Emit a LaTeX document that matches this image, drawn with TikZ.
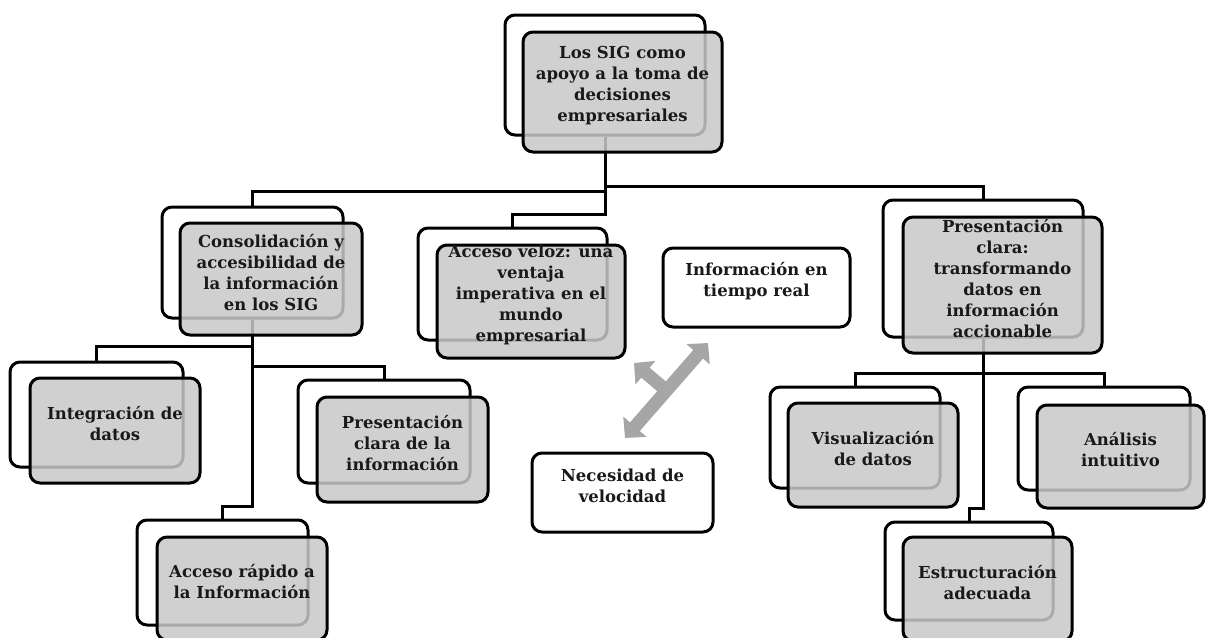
\documentclass[tikz,border=0pt]{standalone}
\usepackage{fontspec}
\newfontfamily\boxfont{DejaVu Serif}
\usetikzlibrary{fit,arrows.meta}
\pgfdeclarelayer{bg}
\pgfsetlayers{bg,main}
\definecolor{frontgray}{RGB}{200,200,200}
\definecolor{arrowgray}{RGB}{166,166,166}
\definecolor{txt}{RGB}{25,25,25}
\tikzset{
  base/.style={rounded corners=10pt, line width=3pt, draw=black, inner sep=0pt,
    align=center, text=txt, font=\boxfont\bfseries\fontsize{16.5}{21}\selectfont},
  backbox/.style={base, fill=white},
  frontbox/.style={base, fill=frontgray, fill opacity=0.85, text opacity=1},
  plainbox/.style={base, fill=white},
  conn/.style={line width=3pt, draw=black, line join=miter},
  bigarrow/.style={line width=13pt, draw=arrowgray,
    arrows={-Triangle[width=30pt,length=15pt]}},
}
\begin{document}
\begin{tikzpicture}[x=1pt,y=-1pt]
\useasboundingbox (0,0) rectangle (1206,637);
% root
\node[backbox, fit={(505,15) (705,135)}] (rootB) {};
\node[frontbox, fit={(523,32) (722,152)}] (rootF) {Los SIG como\\apoyo a la toma de\\decisiones\\empresariales};
% level 1
\node[backbox, fit={(162,207) (343,318)}] (consB) {};
\node[frontbox, fit={(180,223) (362,335)}] (consF) {Consolidación y\\accesibilidad de\\la información\\en los SIG};
\node[backbox, fit={(418,228) (607,340)}] (velozB) {};
\node[frontbox, fit={(437,245) (625,358)}] (velozF) {Acceso veloz: una\\ventaja\\imperativa en el\\mundo\\empresarial};
\node[backbox, fit={(883,200) (1083,337)}] (presB) {};
\node[frontbox, fit={(903,217) (1102,353)}] (presF) {Presentación\\clara:\\transformando\\datos en\\información\\accionable};
% level 2 left
\node[backbox, fit={(10,362) (183,467)}] (integB) {};
\node[frontbox, fit={(30,378) (200,483)}] (integF) {Integración de\\datos};
\node[backbox, fit={(298,380) (470,483)}] (infoB) {};
\node[frontbox, fit={(317,397) (488,502)}] (infoF) {Presentación\\clara de la\\información};
\node[backbox, fit={(137,520) (308,625)}] (rapB) {};
\node[frontbox, fit={(157,537) (327,640)}] (rapF) {Acceso rápido a\\la Información};
% level 2 right
\node[backbox, fit={(770,387) (940,488)}] (visB) {};
\node[frontbox, fit={(788,403) (958,507)}] (visF) {Visualización\\de datos};
\node[backbox, fit={(1018,387) (1190,490)}] (analB) {};
\node[frontbox, fit={(1037,405) (1204,508)}] (analF) {Análisis\\intuitivo};
\node[backbox, fit={(885,522) (1053,620)}] (estB) {};
\node[frontbox, fit={(903,537) (1072,641)}] (estF) {Estructuración\\adecuada};
% plain boxes
\node[plainbox, fit={(663,248) (850,327)}] (tiempo) {Información en\\tiempo real};
\node[plainbox, fit={(532,453) (713,532)}] (neces) {Necesidad de\\velocidad};
% connectors
\begin{pgfonlayer}{bg}
\draw[conn] (rootB.south) -- ++(0,55) -| (consB.north);
\draw[conn] (rootB.south) -- ++(0,50) -| (presB.north);
\draw[conn] (rootB.south) -- ++(0,78) -| (velozB.north);
\draw[conn] (consB.south) -- ++(0,27) -| (integB.north);
\draw[conn] (consB.south) -- ++(0,47) -| (infoB.north);
\draw[conn] (consB.south) -- ++(0,187) -| (rapB.north);
\draw[conn] (presB.south) -- ++(0,35) -| (visB.north);
\draw[conn] (presB.south) -- ++(0,35) -| (analB.north);
\draw[conn] (presB.south) -- ++(0,170) -| (estB.north);
\end{pgfonlayer}
% double arrow with branch
\coordinate (aLow) at (625,438);
\coordinate (aHigh) at (708,343);
\coordinate (aMid) at (666.5,390.5);
\coordinate (aBr) at (634,363);
\draw[bigarrow] (aMid) -- (aBr);
\draw[bigarrow] (aMid) -- (aLow);
\draw[bigarrow] (aMid) -- (aHigh);
\end{tikzpicture}
\end{document}
